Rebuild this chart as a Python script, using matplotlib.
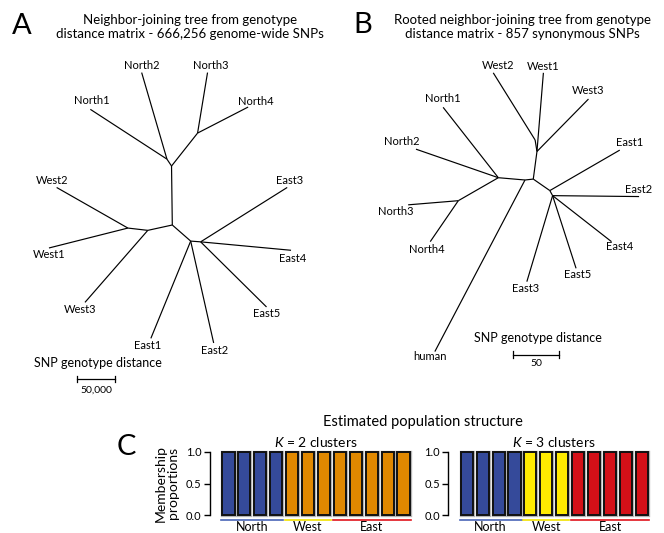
import numpy as np
import matplotlib
matplotlib.use("Agg")
import matplotlib.pyplot as plt

plt.rcParams['font.family'] = ['Lato', 'DejaVu Sans']
plt.rcParams['mathtext.fontset'] = 'custom'
plt.rcParams['mathtext.it'] = 'Lato:italic'
plt.rcParams['mathtext.rm'] = 'Lato'

# tree A: node positions in units of 1,000 SNP genotype distance
tree_a_nodes = {
    "root": (0, 0), "nHub": (-1, 77), "n12": (-7, 86), "n34": (33, 120),
    "North1": (-107, 151), "North2": (-40, 199), "North3": (46, 199), "North4": (99, 154),
    "wHub": (-32, -7), "w12": (-58, -4),
    "West1": (-161, -30), "West2": (-151, 49), "West3": (-114, -101),
    "eHub": (24, -21), "e345": (37, -22),
    "East1": (-28, -148), "East2": (54, -154), "East3": (150, 49),
    "East4": (155, -33), "East5": (123, -107),
}
tree_a_edges = [
    ("root", "nHub"), ("nHub", "n12"), ("n12", "North1"), ("n12", "North2"),
    ("nHub", "n34"), ("n34", "North3"), ("n34", "North4"),
    ("root", "wHub"), ("wHub", "w12"), ("w12", "West1"), ("w12", "West2"), ("wHub", "West3"),
    ("root", "eHub"), ("eHub", "East1"), ("eHub", "East2"), ("eHub", "e345"),
    ("e345", "East3"), ("e345", "East4"), ("e345", "East5"),
]

# tree B: node positions in units of SNP genotype distance, rooted on human
tree_b_nodes = {
    "root": (0, 0), "cB": (9, 1), "nNode": (-29, 2.5), "n34": (-72.5, -22.5),
    "w1node": (13, 31), "w2node": (11, 43.5), "eNode": (27, -11.5), "e2node": (30, -17),
    "West1": (20, 116.5), "West2": (-34.5, 116.5), "West3": (69, 88),
    "North1": (-89, 79), "North2": (-118.5, 33.5), "North3": (-127, -27), "North4": (-103, -67),
    "human": (-98, -186.5),
    "East1": (103, 32.5), "East2": (124, -18), "East3": (2, -110.5),
    "East4": (94, -67), "East5": (55.5, -96),
}
tree_b_edges = [
    ("root", "human"), ("root", "nNode"), ("root", "cB"),
    ("nNode", "North1"), ("nNode", "North2"), ("nNode", "n34"),
    ("n34", "North3"), ("n34", "North4"),
    ("cB", "w1node"), ("w1node", "w2node"), ("w2node", "West2"),
    ("w1node", "West1"), ("w1node", "West3"),
    ("cB", "eNode"), ("eNode", "East1"), ("eNode", "e2node"),
    ("e2node", "East2"), ("e2node", "East3"), ("e2node", "East4"), ("e2node", "East5"),
]

# membership proportions, samples ordered North1-4, West1-3, East1-5
groups = ["North", "West", "East"]
group_sizes = [4, 3, 5]
k2_north_cluster = [1, 1, 1, 1, 0, 0, 0, 0, 0, 0, 0, 0]
k2_other_cluster = [0, 0, 0, 0, 1, 1, 1, 1, 1, 1, 1, 1]
k3_north_cluster = [1, 1, 1, 1, 0, 0, 0, 0, 0, 0, 0, 0]
k3_west_cluster = [0, 0, 0, 0, 1, 1, 1, 0, 0, 0, 0, 0]
k3_east_cluster = [0, 0, 0, 0, 0, 0, 0, 1, 1, 1, 1, 1]

W, H = 664, 533
fig = plt.figure(figsize=(W / 100, H / 100), dpi=100)


def px_axes(left, top, width, height):
    return fig.add_axes([left / W, 1 - (top + height) / H, width / W, height / H])


def px_text(x, y, s, **kw):
    fig.text(x / W, 1 - y / H, s, **kw)


# label offsets in pixels (x right, y up)
a_offsets = {
    "North1": (1, 9), "North2": (0, 7), "North3": (3, 7), "North4": (8, 6),
    "West2": (-5, 7), "West1": (0, -7), "West3": (-5, -7),
    "East3": (2, 7), "East4": (2, -8), "East5": (0, -7), "East1": (-3, -7), "East2": (1, -8),
}
b_offsets = {
    "West2": (5, 7), "West1": (0, 6), "West3": (0, 9), "North1": (0, 9),
    "North2": (-14, 8), "East1": (10, 8), "East2": (-1, 7), "North3": (-12, -7),
    "North4": (-3, -8), "East4": (8, -5), "East5": (2, -6), "East3": (-1, -7),
    "human": (-5, -5),
}


def draw_tree(box, origin, scale, nodes, edges, offsets):
    left, top, width, height = box
    ax = px_axes(left, top, width, height)
    ax.set_xlim((left - origin[0]) * scale, (left + width - origin[0]) * scale)
    ax.set_ylim((origin[1] - top - height) * scale, (origin[1] - top) * scale)
    ax.axis('off')
    for a, b in edges:
        ax.plot([nodes[a][0], nodes[b][0]], [nodes[a][1], nodes[b][1]],
                color='black', lw=0.85, solid_capstyle='butt')
    for name, off in offsets.items():
        ax.annotate(name, xy=nodes[name], xytext=off, textcoords='offset pixels',
                    ha='center', va='center', fontsize=8)
    return ax


ax_a = draw_tree((0, 40, 332, 360), (172.3, 225), 50 / 38.3, tree_a_nodes, tree_a_edges, a_offsets)
ax_a.plot([-125, -75], [-201, -201], color='black', lw=0.9)
ax_a.plot([-125, -125, np.nan, -75, -75], [-205, -197, np.nan, -205, -197], color='black', lw=0.9)
ax_a.text(-97, -180, "SNP genotype distance", ha='center', va='center', fontsize=9)
ax_a.text(-99, -215, "50,000", ha='center', va='center', fontsize=7.5)

ax_b = draw_tree((332, 40, 332, 360), (525, 180), 50 / 46, tree_b_nodes, tree_b_edges, b_offsets)
ax_b.plot([-12.7, 37.3], [-190, -190], color='black', lw=0.9)
ax_b.plot([-12.7, -12.7, np.nan, 37.3, 37.3], [-194, -186, np.nan, -194, -186], color='black', lw=0.9)
ax_b.text(14.5, -171.5, "SNP genotype distance", ha='center', va='center', fontsize=9)
ax_b.text(12, -199.5, "50", ha='center', va='center', fontsize=7.5)

px_text(22, 26, "A", fontsize=21, ha='center', va='center')
px_text(363, 25, "B", fontsize=21, ha='center', va='center')
px_text(126, 447, "C", fontsize=21, ha='center', va='center')
px_text(190, 27, "Neighbor-joining tree from genotype\ndistance matrix - 666,256 genome-wide SNPs",
        fontsize=9.5, ha='center', va='center', multialignment='center', linespacing=1.1)
px_text(522, 27, "Rooted neighbor-joining tree from genotype\ndistance matrix - 857 synonymous SNPs",
        fontsize=9.5, ha='center', va='center', multialignment='center', linespacing=1.1)
px_text(423, 422, "Estimated population structure", fontsize=10.5, ha='center', va='center')
px_text(167, 483, "Membership\nproportions", fontsize=10, ha='center', va='center',
        rotation=90, linespacing=1.0)

group_colors = ['#4a66b8', '#f2e200', '#e0141c']


def draw_bars(left, series, colors, title):
    ax = px_axes(left, 452, 191, 63)
    x = np.arange(12)
    bottom = np.zeros(12)
    for vals, col in zip(series, colors):
        vals = np.array(vals, dtype=float)
        keep = vals > 0
        ax.bar(x[keep], vals[keep], 0.76, bottom=bottom[keep], color=col,
               edgecolor='#b4b4b4', linewidth=2.4, zorder=1, clip_on=False)
        ax.bar(x[keep], vals[keep], 0.76, bottom=bottom[keep], color=col,
               edgecolor='#111111', linewidth=1.4, zorder=2, clip_on=False)
        bottom += vals
    ax.set_xlim(-0.5, 11.5)
    ax.set_ylim(0, 1)
    for s in ['top', 'right', 'bottom']:
        ax.spines[s].set_visible(False)
    ax.spines['left'].set_position(('outward', 7.5))
    ax.spines['left'].set_linewidth(1.0)
    ax.set_xticks([])
    ax.set_yticks([0, 0.5, 1.0])
    ax.set_yticklabels(['0.0', '0.5', '1.0'])
    ax.tick_params(axis='y', length=4, width=1, pad=2, labelsize=8)
    start = 0
    for g, n, c in zip(groups, group_sizes, group_colors):
        ax.plot([start - 0.44, start + n - 0.56], [-0.08, -0.08], color=c, lw=1.2, clip_on=False)
        ax.text(start + (n - 1) / 2, -0.19, g, ha='center', va='center', fontsize=9)
        start += n
    ax.text(5.5, 1.16, title, ha='center', va='center', fontsize=10)


draw_bars(220.5, [k2_north_cluster, k2_other_cluster], ['#354a9a', '#e08800'], "$K$ = 2 clusters")
draw_bars(458.8, [k3_north_cluster, k3_west_cluster, k3_east_cluster],
          ['#354a9a', '#ffea00', '#d41018'], "$K$ = 3 clusters")

fig.savefig("out.png", dpi=100)
